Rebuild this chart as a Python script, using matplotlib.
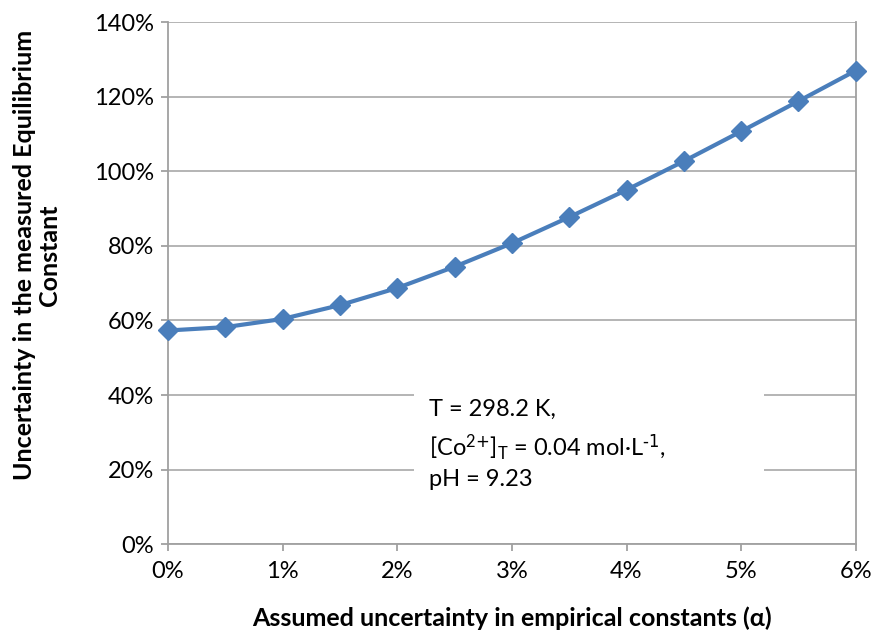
import numpy as np
import matplotlib
matplotlib.use("Agg")
import matplotlib.pyplot as plt
from matplotlib.ticker import FuncFormatter, MultipleLocator

plt.rcParams['font.family'] = ['Lato', 'DejaVu Sans']
plt.rcParams['mathtext.default'] = 'regular'

# assumed uncertainty in empirical constants (%) vs. resulting uncertainty in K (%)
alpha_pct = [0, 0.5, 1, 1.5, 2, 2.5, 3, 3.5, 4, 4.5, 5, 5.5, 6]
k_uncert_pct = [57.3, 58.2, 60.4, 64.1, 68.7, 74.4, 80.7, 87.7, 95.0,
                102.7, 110.7, 118.8, 127.0]

line_color = '#4a7ebb'
grid_color = '#a0a0a0'

fig = plt.figure(figsize=(8.75, 6.32), dpi=100)
ax = fig.add_axes([0.192, 0.139, 0.786, 0.826])

ax.plot(alpha_pct, k_uncert_pct, color=line_color, lw=3.0, marker='D',
        markersize=10.5, zorder=5, clip_on=False)

ax.set_xlim(0, 6)
ax.set_ylim(0, 140)
ax.xaxis.set_major_locator(MultipleLocator(1))
ax.yaxis.set_major_locator(MultipleLocator(20))
ax.xaxis.set_major_formatter(FuncFormatter(lambda v, p: f"{v:.0f}%"))
ax.yaxis.set_major_formatter(FuncFormatter(lambda v, p: f"{v:.0f}%"))

ax.grid(axis='y', color=grid_color, lw=1.1, zorder=0)
for side in ['left', 'bottom', 'right']:
    ax.spines[side].set_color(grid_color)
    ax.spines[side].set_linewidth(1.3)
ax.spines['top'].set_visible(False)

ax.tick_params(axis='both', colors=grid_color, labelcolor='black',
               labelsize=17, length=5, width=1.3)
ax.tick_params(axis='x', pad=7)
ax.tick_params(axis='y', pad=5)

ax.set_xlabel('Assumed uncertainty in empirical constants (α)',
              fontsize=18, fontweight='bold', labelpad=18)
# two-line y title, centred a little above the axes middle
fig.text(0.042, 0.596, 'Uncertainty in the measured Equilibrium\nConstant',
         rotation=90, ha='center', va='center', fontsize=18,
         fontweight='bold', linespacing=1.1)

# conditions box, blanks out the gridlines behind it
ax.add_patch(plt.Rectangle((0.357, 0.085), 0.51, 0.21, transform=ax.transAxes,
                           facecolor='white', edgecolor='none', zorder=2))
ax.text(0.38, 0.278,
        'T = 298.2 K,\n[Co$^{2\\text{+}}$]$_T$ = 0.04 mol·L$^{\\text{-1}}$,\npH = 9.23',
        transform=ax.transAxes, fontsize=17, va='top', ha='left',
        linespacing=1.5, zorder=3)

fig.savefig('out.png', dpi=100)
